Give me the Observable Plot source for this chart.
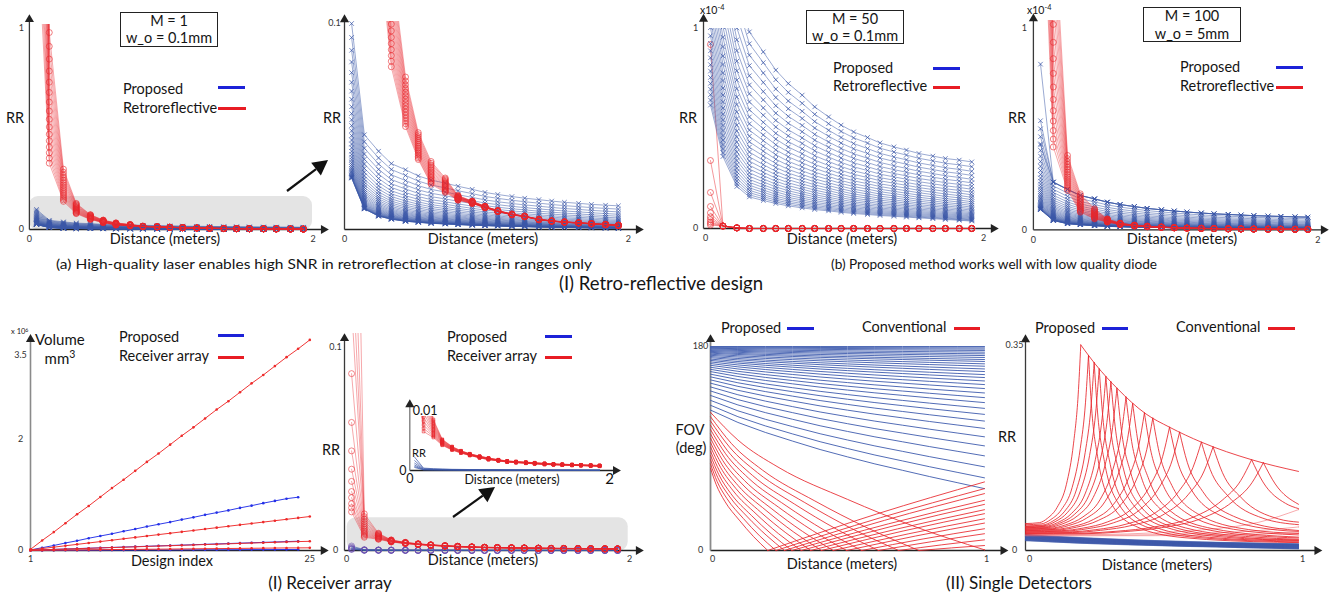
<!DOCTYPE html>
<html>
<head>
<meta charset="utf-8">
<script src="https://cdn.jsdelivr.net/npm/d3@7"></script>
<script src="https://cdn.jsdelivr.net/npm/@observablehq/plot@0.6"></script>
<style>
html,body{margin:0;padding:0;background:#fff;}
#fig{position:relative;width:1335px;height:592px;overflow:hidden;background:#fff;font-family:Lato,"Open Sans",sans-serif;color:#151515;}
.t{position:absolute;white-space:nowrap;line-height:1;}
.box{position:absolute;border:1.3px solid #222;box-sizing:border-box;background:#fff;}
.bar{position:absolute;height:3px;}
sup{font-size:70%;vertical-align:0.5em;line-height:0;}
</style>
</head>
<body>
<div id="fig"></div>
<script>
// ================= DATA =================
// sample distances (meters) of the retro-reflective / receiver-array simulations
const distances = [0.05,0.14,0.24,0.33,0.43,0.52,0.61,0.71,0.8,0.9,0.99,1.08,1.18,1.27,1.37,1.46,1.55,1.65,1.74,1.84,1.93];

// curve levels inside each family (0 = lowest curve, 1 = highest curve)
const proposedLevels = [0,0.0017,0.0058,0.012,0.0202,0.0303,0.0419,0.0552,0.0701,0.0868,0.1046,0.1246,0.1454,0.1679,0.192,0.2176,0.2445,0.2728,0.3021,0.3334,0.3651,0.3984,0.4331,0.4695,0.5069,0.5455,0.5855,0.6268,0.6693,0.7128,0.7577,0.8037,0.8508,0.8995,0.9494,1];
const m50Levels = [0,0.034,0.069,0.103,0.138,0.172,0.207,0.241,0.276,0.31,0.345,0.379,0.414,0.448,0.483,0.517,0.552,0.586,0.621,0.655,0.69,0.724,0.759,0.793,0.828,0.862,0.897,0.931,0.966,1];
const retroLevels = [0,0.067,0.133,0.2,0.267,0.333,0.4,0.467,0.533,0.6,0.667,0.733,0.8,0.867,0.933,1];
const receiverLevels = [1,0.923,0.846,0.769,0.692,0.615,0.538,0.462,0.385,0.308,0.231,0.154,0.077,0];
const smallLevels = [0,0.2,0.4,0.6,0.8,1];

// (a) M = 1, w_o = 0.1mm  — RR (highest / lowest curve of each family)
const m1ProposedHigh = [0.1,0.046,0.038,0.032,0.029,0.026,0.024,0.0225,0.021,0.0195,0.018,0.017,0.016,0.0152,0.0145,0.0138,0.0132,0.0127,0.0122,0.0118,0.0115];
const m1ProposedLow  = [0.025,0.01,0.0065,0.005,0.004,0.0035,0.003,0.0027,0.0024,0.0021,0.0019,0.0017,0.0015,0.0014,0.0012,0.0011,0.001,0.0009,0.0008,0.0007,0.0006];
const m1RetroHigh = [10,0.98,0.3,0.13,0.074,0.047,0.033,0.025,0.0165,0.0138,0.0113,0.0092,0.0075,0.0065,0.005,0.0042,0.0037,0.0033,0.0029,0.0025,0.0021];
const m1RetroLow  = [1.6,0.33,0.14,0.079,0.05,0.034,0.022,0.018,0.0142,0.0126,0.0105,0.0087,0.0071,0.0062,0.0047,0.004,0.0035,0.0031,0.0027,0.0023,0.0019];

// (b) M = 50, w_o = 0.1mm  — RR x1e-4
const m50ProposedHigh = [2.0,1.6,1.2,0.983,0.883,0.792,0.725,0.667,0.608,0.558,0.517,0.483,0.455,0.428,0.408,0.392,0.375,0.362,0.35,0.342,0.333];
const m50ProposedLow  = [0.617,0.36,0.21,0.158,0.14,0.125,0.113,0.103,0.095,0.088,0.081,0.075,0.07,0.065,0.061,0.057,0.053,0.049,0.045,0.041,0.037];
const m50RetroStart = [0.92,0.34,0.18,0.11,0.078,0.058,0.045,0.033,0.025,0.017];
const m50RetroTail  = [0.012,0.003,0,0,0,0,0,0,0,0,0,0,0,0,0,0,0,0,0,0];

// (b) M = 100, w_o = 5mm  — RR x1e-4
const m100ProposedHigh = [0.5,0.236,0.2,0.17,0.153,0.137,0.125,0.115,0.106,0.099,0.093,0.088,0.083,0.079,0.076,0.073,0.07,0.068,0.066,0.064,0.0627];
const m100ProposedLow  = [0.1,0.046,0.03,0.025,0.02,0.017,0.015,0.013,0.012,0.011,0.01,0.009,0.008,0.0075,0.007,0.0065,0.006,0.0055,0.005,0.0045,0.004];
const m100ProposedOutliers = [0.82,0.54,0.42];
const m100RetroHigh = [8,1.6,0.368,0.178,0.104,0.054,0.033,0.023,0.018,0.014,0.011,0.009,0.0075,0.0062,0.0052,0.0045,0.004,0.0035,0.003,0.0027,0.0025];
const m100RetroLow  = [2,0.41,0.195,0.087,0.054,0.038,0.026,0.019,0.015,0.012,0.0095,0.008,0.0065,0.0055,0.0045,0.004,0.0035,0.003,0.0026,0.0023,0.0021];

// (I) Receiver array — volume (x1e6 mm^3) per design index
const designIndex = [1,2,3,4,5,6,7,8,9,10,11,12,13,14,15,16,17,18,19,20,21,22,23,24,25];
const volumeArrayTop    = [0.02,0.18,0.33,0.49,0.65,0.8,0.96,1.12,1.27,1.43,1.59,1.74,1.9,2.06,2.21,2.37,2.53,2.68,2.84,3,3.15,3.31,3.47,3.62,3.78];
const volumeArrayMid    = [0.01,0.035,0.06,0.085,0.11,0.135,0.16,0.185,0.21,0.235,0.26,0.285,0.31,0.335,0.36,0.385,0.41,0.435,0.46,0.485,0.51,0.535,0.56,0.585,0.61];
const volumeArrayLow    = [0.005,0.012,0.019,0.026,0.032,0.039,0.046,0.053,0.059,0.066,0.073,0.08,0.086,0.093,0.1,0.107,0.113,0.12,0.127,0.134,0.14,0.147,0.154,0.16,0.165];
const volumeArrayLowest = [0.002,0.004,0.006,0.008,0.01,0.012,0.014,0.016,0.018,0.02,0.022,0.024,0.026,0.028,0.03,0.032,0.034,0.036,0.038,0.04,0.042,0.044,0.046,0.047,0.048];
const volumeProposedTop    = [0.01,0.05,0.09,0.135,0.175,0.22,0.26,0.3,0.345,0.385,0.43,0.47,0.51,0.555,0.595,0.64,0.68,0.72,0.765,0.805,0.85,0.89,0.93,0.957];
const volumeProposedLow    = [0.005,0.012,0.02,0.027,0.034,0.041,0.048,0.055,0.062,0.069,0.076,0.083,0.09,0.097,0.104,0.111,0.118,0.125,0.132,0.139,0.146,0.153,0.16,0.167];
const volumeProposedLowest = [0.001,0.002,0.003,0.004,0.004,0.005,0.006,0.007,0.007,0.008,0.009,0.01,0.01,0.011,0.012,0.013,0.013,0.014,0.015,0.016,0.016,0.017,0.018,0.019];

// (I) Receiver array — RR
const receiverStart = [0.35,0.2,0.15,0.12,0.087,0.063,0.049,0.04,0.034,0.029,0.026,0.023,0.021,0.019];
const receiverTailHigh = [0.018,0.0085,0.0052,0.004,0.0033,0.0028,0.0024,0.0021,0.0018,0.0016,0.0015,0.0014,0.0013,0.0012,0.0011,0.00105,0.001,0.00095,0.0009,0.00085];
const receiverTailLow  = [0.0065,0.0055,0.0042,0.0034,0.0029,0.0025,0.0021,0.0018,0.0016,0.0014,0.0013,0.0012,0.0011,0.001,0.00095,0.0009,0.00085,0.0008,0.00075,0.0007];
const receiverProposedHigh = [0.0022,0.0004,0.0003,0.00025,0.0002,0.00018,0.00016,0.00015,0.00014,0.00013,0.00012,0.00011,0.0001,0.0001,0.00009,0.00009,0.00008,0.00008,0.00007,0.00007,0.00007];
const receiverProposedLow  = [0.0005,0.0001,0.00008,0.00007,0.00006,0.00005,0.00005,0.00004,0.00004,0.00004,0.00003,0.00003,0.00003,0.00003,0.00002,0.00002,0.00002,0.00002,0.00002,0.00002,0.00002];

// (II) Single detectors
const gridX = [0,0.1,0.2,0.3,0.4,0.5,0.6,0.7,0.8,0.9,1];
const fovProposedTop    = [180,180,180,180,180,180,180,180,180,180,180];
const fovProposedBottom = [123.9,113.0,104.2,96.5,89.1,82.6,76.4,70.8,65.2,59.9,54.6];
const fovProposedEnds = [180,178.8,177.7,176.5,175,173.5,172,170.3,168.5,166.8,164.7,162.6,160.2,157.9,155.2,152.6,149.6,146.4,142.9,139,134.9,130.5,125.4,120.1,114.2,107.7,100.3,92.3,83.5,73.8,64.1,54.6];
const fovConventional = [
 [[0,121.9],[0.1,97.5],[0.25,73.1],[0.5,45.1],[0.75,20.7],[1,0.6]],
 [[0,118.1],[0.076,94.5],[0.19,70.9],[0.381,43.7],[0.571,20.1],[0.761,0],[0.88,2.3],[1,4.4]],
 [[0,114.3],[0.069,91.4],[0.172,68.6],[0.344,42.3],[0.515,19.4],[0.687,0],[0.844,5.0],[1,9.4]],
 [[0,110.5],[0.061,88.4],[0.153,66.3],[0.307,40.9],[0.46,18.8],[0.613,0],[0.807,7.8],[1,14.8]],
 [[0,106.7],[0.055,85.4],[0.138,64.0],[0.276,39.5],[0.414,18.1],[0.552,0],[0.776,10.2],[1,19.2]],
 [[0,102.9],[0.05,82.3],[0.124,61.7],[0.249,38.1],[0.373,17.5],[0.497,0],[0.749,12.8],[1,24.2]],
 [[0,99.1],[0.045,79.3],[0.112,59.5],[0.224,36.7],[0.336,16.8],[0.448,0],[0.724,14.8],[1,28.0]],
 [[0,95.3],[0.041,76.2],[0.101,57.2],[0.203,35.3],[0.304,16.2],[0.405,0],[0.703,17.2],[1,32.5]],
 [[0,91.5],[0.037,73.2],[0.092,54.9],[0.183,33.9],[0.275,15.6],[0.366,0],[0.683,19.1],[1,36.0]],
 [[0,87.7],[0.033,70.2],[0.083,52.6],[0.166,32.4],[0.248,14.9],[0.331,0],[0.666,21.6],[1,40.7]],
 [[0,83.9],[0.03,67.1],[0.074,50.3],[0.149,31.0],[0.223,14.3],[0.297,0],[0.649,23.5],[1,44.3]],
 [[0,80.1],[0.027,64.1],[0.068,48.1],[0.135,29.6],[0.203,13.6],[0.27,0],[0.635,26.6],[1,50.2]],
 [[0,76.3],[0.024,61.0],[0.06,45.8],[0.12,28.2],[0.179,13.0],[0.239,0],[0.62,28.9],[1,54.6]],
 [[0,72.5],[0.021,58.0],[0.052,43.5],[0.105,26.8],[0.157,12.3],[0.209,0],[0.605,32.1],[1,60.5]]
];
const rrProposedHigh = [0.027,0.024,0.022,0.02,0.018,0.0165,0.015,0.014,0.013,0.012,0.0114];
const rrProposedLow  = [0.017,0.0145,0.0125,0.011,0.0095,0.0082,0.007,0.006,0.0048,0.0038,0.0028];
const rrConventional = [
 [[0,0.046],[0.0506,0.0475],[0.081,0.0552],[0.1157,0.0735],[0.15,0.1131],[0.1761,0.1833],[0.1929,0.2656],[0.2025,0.351],[0.2577,0.317],[0.3374,0.276],[0.4417,0.233],[0.5276,0.2105],[0.6442,0.185],[0.8282,0.155],[1,0.135]],
 [[0,0.044],[0.0577,0.0454],[0.0923,0.0527],[0.1318,0.07],[0.1709,0.1076],[0.2006,0.174],[0.2197,0.2521],[0.2307,0.333],[0.2422,0.243],[0.2653,0.1567],[0.3114,0.083],[0.4037,0.0413],[0.5768,0.0221],[0.9228,0.0141],[1,0.0135]],
 [[0,0.042],[0.0629,0.0434],[0.1006,0.0504],[0.1437,0.0671],[0.1863,0.1034],[0.2187,0.1676],[0.2395,0.2429],[0.2515,0.321],[0.2641,0.2348],[0.2892,0.1516],[0.3395,0.0808],[0.4401,0.0407],[0.6288,0.0222],[1,0.0145]],
 [[0,0.041],[0.0675,0.0423],[0.108,0.0491],[0.1542,0.0652],[0.1999,0.1002],[0.2347,0.1621],[0.257,0.2347],[0.2699,0.31],[0.2834,0.227],[0.3104,0.147],[0.3644,0.0787],[0.4723,0.0402],[0.6748,0.0224],[1,0.0159]],
 [[0,0.04],[0.0736,0.0413],[0.1178,0.0477],[0.1683,0.0631],[0.2181,0.0965],[0.2561,0.1557],[0.2805,0.225],[0.2945,0.297],[0.3092,0.2178],[0.3387,0.1414],[0.3976,0.0763],[0.5154,0.0395],[0.7363,0.0225],[1,0.0171]],
 [[0,0.039],[0.0782,0.0402],[0.1252,0.0465],[0.1788,0.0614],[0.2318,0.0938],[0.2721,0.151],[0.298,0.2183],[0.3129,0.288],[0.3285,0.2114],[0.3598,0.1376],[0.4224,0.0747],[0.5476,0.0391],[0.7823,0.0227],[1,0.018]],
 [[0,0.038],[0.0838,0.0392],[0.134,0.0452],[0.1914,0.0595],[0.2481,0.0906],[0.2913,0.1456],[0.319,0.2101],[0.335,0.277],[0.3518,0.2036],[0.3853,0.1329],[0.4523,0.0726],[0.5863,0.0386],[0.8375,0.0229],[1,0.0192]],
 [[0,0.037],[0.092,0.0381],[0.1472,0.0438],[0.2103,0.0573],[0.2727,0.0865],[0.3201,0.1383],[0.3506,0.199],[0.3681,0.262],[0.3865,0.193],[0.4233,0.1264],[0.4969,0.0697],[0.6442,0.0377],[0.9203,0.0229],[1,0.0214]],
 [[0,0.036],[0.0982,0.0371],[0.157,0.0425],[0.2243,0.0554],[0.2908,0.0833],[0.3414,0.1328],[0.3739,0.1908],[0.3926,0.251],[0.4122,0.1852],[0.4515,0.1218],[0.53,0.0677],[0.6871,0.0372],[1,0.0228]],
 [[0,0.035],[0.1089,0.036],[0.1742,0.041],[0.2489,0.053],[0.3227,0.079],[0.3788,0.125],[0.4149,0.179],[0.4356,0.235],[0.4574,0.1738],[0.5009,0.1148],[0.5881,0.0646],[0.7623,0.0362],[1,0.0266]],
 [[0,0.034],[0.1166,0.035],[0.1865,0.0398],[0.2665,0.0513],[0.3454,0.0762],[0.4055,0.1204],[0.4441,0.1722],[0.4663,0.226],[0.4896,0.1675],[0.5362,0.111],[0.6295,0.063],[0.816,0.0358],[1,0.0291]],
 [[0,0.033],[0.1319,0.0339],[0.211,0.0383],[0.3015,0.049],[0.3908,0.072],[0.4588,0.1129],[0.5025,0.1608],[0.5276,0.2105],[0.554,0.1565],[0.6067,0.1044],[0.7123,0.06],[0.9233,0.0349],[1,0.0326]],
 [[0,0.032],[0.1411,0.0329],[0.2258,0.0371],[0.3225,0.0473],[0.4181,0.0694],[0.4908,0.1085],[0.5375,0.1544],[0.5644,0.202],[0.5926,0.1505],[0.6491,0.1008],[0.7619,0.0585],[0.9877,0.0346],[1,0.0342]],
 [[0,0.031],[0.1611,0.0318],[0.2577,0.0356],[0.3681,0.0449],[0.4772,0.0649],[0.5602,0.1003],[0.6135,0.1419],[0.6442,0.185],[0.6764,0.1384],[0.7408,0.0934],[0.8697,0.0551],[1,0.0441]],
 [[0,0.03],[0.1718,0.0307],[0.2748,0.0344],[0.3926,0.0432],[0.509,0.0623],[0.5975,0.0962],[0.6544,0.1358],[0.6871,0.177],[0.7215,0.1328],[0.7902,0.0901],[0.9276,0.0538],[1,0.0484]],
 [[0,0.029],[0.2071,0.0296],[0.3313,0.0328],[0.4733,0.0403],[0.6135,0.0567],[0.7202,0.0857],[0.7888,0.1197],[0.8282,0.155],[0.8696,0.1171],[0.9524,0.0805],[1,0.0715]],
 [[0,0.028],[0.2178,0.0286],[0.3485,0.0317],[0.4978,0.039],[0.6453,0.0548],[0.7576,0.0829],[0.8297,0.1158],[0.8712,0.15],[0.9148,0.1136],[1,0.0789]]
];
const rrConventionalFaint = [
 [[0,0.027],[0.2875,0.0275],[0.46,0.0299],[0.657,0.0356],[0.852,0.0479],[1,0.0698]],
 [[0,0.026],[0.3625,0.0264],[0.58,0.0284],[0.8286,0.0331],[1,0.0402]],
 [[0,0.025],[0.475,0.0253],[0.76,0.027],[1,0.0301]]
];

// highlighted (zoomed) regions
const zoomBoxA = {x1: 0, x2: 1.995, y1: -0.005, y2: 0.164};
const zoomBoxD = {x1: 0.019, x2: 2.005, y1: -0.0003, y2: 0.0161};

// tick labels
const ticksDistance = ["0","2"];
const ticksUnit = ["0","1"];

// ================= TABLES =================
function geoFamily(lo, hi, levels, key) {
  const rows = [];
  levels.forEach((t, j) => distances.forEach((d, i) =>
    rows.push({d, v: Math.exp((1 - t) * Math.log(lo[i]) + t * Math.log(hi[i])), id: key + j})));
  return rows;
}
function startTailFamily(starts, tailLo, tailHi, levels, key) {
  const rows = [];
  starts.forEach((s, j) => {
    rows.push({d: distances[0], v: s, id: key + j});
    for (let i = 1; i < distances.length; i++) {
      const lo = tailLo[i - 1], hi = tailHi[i - 1], t = levels[j];
      const v = lo <= 0 || hi <= 0 ? lo + t * (hi - lo) : Math.exp((1 - t) * Math.log(lo) + t * Math.log(hi));
      rows.push({d: distances[i], v, id: key + j});
    }
  });
  return rows;
}
function linFamily(xs, lo, hi, levels, key) {
  const rows = [];
  levels.forEach((t, j) => xs.forEach((x, i) => rows.push({d: x, v: lo[i] + t * (hi[i] - lo[i]), id: key + j})));
  return rows;
}
function branches(lines, key, splitAtMax) {
  const rows = [];
  lines.forEach((pts, j) => {
    let k = 0;
    pts.forEach((p, i) => { if (splitAtMax ? p[1] > pts[k][1] : p[1] < pts[k][1]) k = i; });
    pts.forEach((p, i) => {
      if (i <= k) rows.push({d: p[0], v: p[1], id: key + j + "a"});
      if (i >= k) rows.push({d: p[0], v: p[1], id: key + j + "b"});
    });
  });
  return rows;
}
function series(xs, ys, key) { return ys.map((v, i) => ({d: xs[i], v, id: key})); }

const m1Prop = geoFamily(m1ProposedLow, m1ProposedHigh, proposedLevels, "p");
const m1Retro = geoFamily(m1RetroLow, m1RetroHigh, retroLevels, "r");
const m50Prop = geoFamily(m50ProposedLow, m50ProposedHigh, m50Levels, "p");
const m50Retro = startTailFamily(m50RetroStart, m50RetroTail, m50RetroTail, m50RetroStart.map(() => 0), "r");
const m100Prop = geoFamily(m100ProposedLow, m100ProposedHigh, proposedLevels, "p").concat(
  startTailFamily(m100ProposedOutliers, m100ProposedHigh.slice(1), m100ProposedHigh.slice(1), [0.9, 0.95, 1], "o"));
const m100Retro = geoFamily(m100RetroLow, m100RetroHigh, retroLevels, "r");
const recRed = startTailFamily(receiverStart, receiverTailLow, receiverTailHigh, receiverLevels, "r");
const recBlue = geoFamily(receiverProposedLow, receiverProposedHigh, smallLevels, "p");
const volRed = [].concat(series(designIndex, volumeArrayTop, "r1"), series(designIndex, volumeArrayMid, "r2"), series(designIndex, volumeArrayLow, "r3"), series(designIndex, volumeArrayLowest, "r4"));
const volBlue = [].concat(series(designIndex, volumeProposedTop, "b1"), series(designIndex, volumeProposedLow, "b2"), series(designIndex, volumeProposedLowest, "b3"));
const fovLevels = fovProposedEnds.map(e => (e - fovProposedBottom[10]) / (fovProposedTop[10] - fovProposedBottom[10]));
const fovBlue = linFamily(gridX, fovProposedBottom, fovProposedTop, fovLevels, "p");
const fovRed = branches(fovConventional, "c", false);
const rrBlue = linFamily(gridX, rrProposedLow, rrProposedHigh, retroLevels, "p");
const rrRed = branches(rrConventional, "c", true);
const rrRedFaint = branches(rrConventionalFaint, "f", true);

// ================= DRAWING =================
const BLUE = "#3a57a7", RED = "#e8262c", BLUE_L = "#1d22d8", RED_L = "#e81c24";
const fig = document.getElementById("fig");
const M = 30;
function addPlot(f, xMap, yMap, marks) {
  const kx = (xMap[3] - xMap[1]) / (xMap[2] - xMap[0]);
  const ky = (yMap[3] - yMap[1]) / (yMap[2] - yMap[0]);
  const xd = [xMap[0] + (f.l - xMap[1]) / kx, xMap[0] + (f.r - xMap[1]) / kx];
  const yd = [yMap[0] + (f.b - yMap[1]) / ky, yMap[0] + (f.t - yMap[1]) / ky];
  const svg = Plot.plot({
    width: f.r - f.l + 2 * M, height: f.b - f.t + 2 * M,
    marginLeft: M, marginRight: M, marginTop: M, marginBottom: M,
    x: {domain: xd, axis: null}, y: {domain: yd, axis: null},
    style: {background: "transparent", overflow: "visible", fontFamily: "Lato, sans-serif", maxWidth: "none"},
    marks
  });
  svg.style.position = "absolute";
  svg.style.left = (f.l - M) + "px";
  svg.style.top = (f.t - M) + "px";
  fig.appendChild(svg);
}
function axes(o) {
  const xc = o.xColor || "#222", yc = o.yColor || "#3a3a3a", yw = o.yWidth || 1.3;
  return [
    Plot.link([0], {x1: [o.x0], y1: [o.y0], x2: [o.xTip], y2: [o.y0], stroke: xc, strokeWidth: 1.3}),
    Plot.link([0], {x1: [o.x0], y1: [o.y0], x2: [o.x0], y2: [o.yTip], stroke: yc, strokeWidth: yw}),
    Plot.dot([0], {x: [o.xTip], y: [o.y0], symbol: "triangle", r: 3.4, fill: "#222", stroke: "none", rotate: 90}),
    Plot.dot([0], {x: [o.x0], y: [o.yTip], symbol: "triangle", r: 3.4, fill: "#222", stroke: "none"})
  ];
}
function ticks(labels, xs, ys, o) {
  return Plot.text(labels, Object.assign({x: xs, y: ys, text: d => d, fontSize: 9, fill: "#333"}, o));
}
function lineMark(rows, stroke, w, op, extra) {
  return Plot.line(rows, Object.assign({x: "d", y: "v", z: "id", stroke, strokeWidth: w, strokeOpacity: op, clip: true}, extra || {}));
}
function dotMark(rows, symbol, r, stroke, w, op) {
  return Plot.dot(rows, {x: "d", y: "v", symbol, r, stroke, strokeWidth: w, strokeOpacity: op, fill: "none", clip: true});
}

// ---- (a) M = 1 full range
addPlot({l: 29, r: 318, t: 24, b: 236}, [0, 28.9, 2, 312.7], [0, 229, 1, 28], [
  Plot.rect([zoomBoxA], {x1: "x1", x2: "x2", y1: "y1", y2: "y2", fill: "#e4e4e4", rx: 9}),
  ...axes({x0: 0, y0: 0, xTip: 2.073, yTip: 1.045}),
  ticks(ticksUnit, [0, 0], [0, 1], {dx: -8}),
  ticks(ticksDistance, [0, 2], [0, 0], {dy: 10}),
  lineMark(m1Prop, BLUE, 0.6, 0.85),
  dotMark(m1Prop, "times", 2.2, BLUE, 0.8, 0.9),
  lineMark(m1Retro, RED, 0.8, 0.5),
  dotMark(m1Retro, "circle", 3, RED, 0.8, 0.75)
]);
// ---- (a) zoomed
addPlot({l: 344, r: 630, t: 21, b: 235}, [0, 344, 2, 627.8], [0, 229, 0.1, 23], [
  ...axes({x0: 0, y0: 0, xTip: 2.072, yTip: 0.1019}),
  ticks(["0.1"], [0], [0.1], {dx: -10}),
  ticks(ticksDistance, [0, 2], [0, 0], {dy: 10}),
  lineMark(m1Prop, BLUE, 0.6, 0.85),
  dotMark(m1Prop, "times", 2.2, BLUE, 0.8, 0.9),
  lineMark(m1Retro, RED, 0.8, 0.5),
  dotMark(m1Retro, "circle", 3, RED, 0.8, 0.75)
]);
// ---- (b) M = 50
addPlot({l: 703, r: 980, t: 28.3, b: 234}, [0, 703, 2, 981], [0, 228.3, 1, 28.3], [
  ...axes({x0: 0, y0: 0, xTip: 2.086, yTip: 1.047}),
  ticks(ticksUnit, [0, 0], [0, 1], {dx: -8}),
  ticks(ticksDistance, [0, 2], [0, 0], {dy: 10, dx: 2}),
  lineMark(m50Retro, RED, 0.8, 0.6),
  dotMark(m50Retro, "circle", 3, RED, 0.8, 0.75),
  lineMark(m50Prop, BLUE, 0.6, 0.85),
  dotMark(m50Prop, "times", 2.2, BLUE, 0.8, 0.9)
]);
// ---- (b) M = 100
addPlot({l: 1033, r: 1315, t: 20, b: 235}, [0, 1032.9, 2, 1317.3], [0, 229.3, 1, 27.3], [
  ...axes({x0: 0, y0: 0, xTip: 2.04, yTip: 1.045}),
  ticks(ticksUnit, [0, 0], [0, 1], {dx: -9}),
  ticks(ticksDistance, [0, 2], [0, 0], {dy: 10}),
  lineMark(m100Prop, BLUE, 0.6, 0.85),
  dotMark(m100Prop, "times", 2.2, BLUE, 0.8, 0.9),
  lineMark(m100Retro, RED, 0.8, 0.5),
  dotMark(m100Retro, "circle", 3, RED, 0.8, 0.75)
]);
// ---- Receiver array: volume
addPlot({l: 26, r: 316, t: 330, b: 553}, [1, 30, 25, 309.3], [0, 550, 3.5, 355], [
  ...axes({x0: 1, y0: 0, xTip: 26.17, yTip: 3.79, yColor: "#8a8a8a", yWidth: 1.6}),
  ticks(["0", "2", "3.5"], [1, 1, 1], [0, 2, 3.5], {dx: -10}),
  ticks(["1", "25"], [1, 25], [0, 0], {dy: 9}),
  lineMark(volBlue, "#2430e8", 1, 0.95, {clip: false}),
  Plot.dot(volBlue, {x: "d", y: "v", r: 1.3, fill: "#2430e8"}),
  lineMark(volRed, "#ee2a2a", 1, 0.95, {clip: false}),
  Plot.dot(volRed, {x: "d", y: "v", r: 1.3, fill: "#ee2a2a"})
]);
// ---- Receiver array: RR
addPlot({l: 344, r: 630, t: 333, b: 556}, [0, 344, 2, 627], [0, 550, 0.1, 346.7], [
  Plot.rect([zoomBoxD], {x1: "x1", x2: "x2", y1: "y1", y2: "y2", fill: "#e4e4e4", rx: 9}),
  ...axes({x0: 0, y0: 0, xTip: 2.078, yTip: 0.1043}),
  ticks(["0.1", "0"], [0, 0], [0.1, 0], {dx: -9}),
  ticks(ticksDistance, [0, 2], [0, 0], {dy: 9, dx: 2}),
  lineMark(recBlue, BLUE, 0.7, 0.85),
  dotMark(recBlue, "circle", 3, "#6a4fb0", 0.8, 0.7),
  lineMark(recRed, RED, 0.8, 0.5),
  dotMark(recRed, "circle", 3, RED, 0.8, 0.7)
]);
// ---- Receiver array: inset
addPlot({l: 409, r: 612, t: 416, b: 473}, [0, 409.3, 2, 606], [0, 470, 0.01, 410], [
  ...axes({x0: 0, y0: 0, xTip: 2.093, yTip: 0.011, yColor: "#777"}),
  ticks(["0.01"], [0], [0.01], {dx: 3, textAnchor: "start", fontSize: 12.5, fill: "#111"}),
  ticks(["0"], [0], [0], {dx: -7, fontSize: 12.5, fill: "#111"}),
  ticks(["0"], [0], [0], {dy: 8, fontSize: 12.5, fill: "#111"}),
  ticks(["2"], [2], [0], {dy: 9, dx: 3, fontSize: 15, fill: "#111"}),
  lineMark(recBlue, BLUE, 0.8, 0.9),
  lineMark(recRed, RED, 0.8, 0.55),
  dotMark(recRed, "square", 1.5, RED, 0.8, 0.8)
]);
// ---- Single detectors: FOV
addPlot({l: 709, r: 990, t: 343, b: 553}, [0, 710, 1, 984], [0, 550, 180, 346], [
  ...axes({x0: 0, y0: 0, xTip: 1.068, yTip: 186.2, yColor: "#8a8a8a", yWidth: 1.8}),
  ticks(["180", "0"], [0, 0], [180, 0], {dx: -10}),
  ticks(["0", "1"], [0, 1], [0, 0], {dy: 9, dx: 2}),
  lineMark(fovBlue, "#3f5cae", 1, 0.9, {clip: false}),
  lineMark(fovRed, "#e8262c", 0.9, 0.95, {clip: false, curve: "monotone-x"})
]);
// ---- Single detectors: RR
addPlot({l: 1023, r: 1305, t: 340, b: 553}, [0, 1025, 1, 1298], [0, 550, 0.35, 345], [
  ...axes({x0: 0, y0: 0, xTip: 1.068, yTip: 0.36}),
  ticks(["0.35", "0"], [0, 0], [0.35, 0], {dx: -11}),
  ticks(["0", "1"], [0, 1], [0, 0], {dy: 9, dx: 4}),
  lineMark(rrBlue, "#3a55a8", 1.2, 0.7, {clip: false}),
  lineMark(rrRedFaint, "#f06066", 0.9, 0.6, {clip: false, curve: "monotone-x"}),
  lineMark(rrRed, "#e8262c", 0.9, 0.95, {clip: false, curve: "monotone-x"})
]);

// ================= TEXT / ANNOTATIONS =================
function label(html, x, y, o) {
  o = o || {};
  const e = document.createElement("div");
  e.className = "t";
  e.innerHTML = html;
  e.style.left = x + "px";
  e.style.top = y + "px";
  e.style.fontSize = (o.size || 14.5) + "px";
  if (o.color) e.style.color = o.color;
  const a = o.anchor === "middle" ? "-50%" : "0";
  e.style.transform = `translate(${a},-50%)`;
  fig.appendChild(e);
  if (o.fit) {
    const w = e.getBoundingClientRect().width;
    e.style.transform = `translate(${a},-50%) scaleX(${o.fit / w})`;
  }
  return e;
}
function bar(x1, x2, y, color) {
  const e = document.createElement("div");
  e.className = "bar";
  e.style.left = x1 + "px"; e.style.width = (x2 - x1) + "px";
  e.style.top = (y - 1.5) + "px"; e.style.background = color;
  fig.appendChild(e);
}
function box(l, t, r, b) {
  const e = document.createElement("div");
  e.className = "box";
  e.style.left = l + "px"; e.style.top = t + "px";
  e.style.width = (r - l) + "px"; e.style.height = (b - t) + "px";
  fig.appendChild(e);
}
const mid = {anchor: "middle"};
// panel (a)
label("RR", 15, 118, mid);
label("Distance (meters)", 165, 239, mid);
box(120, 12, 218, 47);
label("M = 1", 169, 21, mid); label("w_o = 0.1mm", 169, 38, mid);
label("Proposed", 123, 89); bar(218, 245, 87, BLUE_L);
label("Retroreflective", 123, 108); bar(218, 246, 108, RED_L);
label("RR", 332, 118, mid);
label("Distance (meters)", 483, 239, mid);
// panel (b)
label("RR", 688, 118, mid);
label("Distance (meters)", 842, 239, mid);
box(806, 10, 904, 44);
label("M = 50", 855, 19, mid); label("w_o = 0.1mm", 855, 36, mid);
label("Proposed", 833, 68); bar(933, 960, 68, BLUE_L);
label("Retroreflective", 833, 86); bar(933, 960, 87, RED_L);
label("x10<sup>-4</sup>", 700, 10, {size: 10.5});
label("RR", 1017, 118, mid);
label("Distance (meters)", 1182, 239, mid);
box(1143, 7, 1241, 42);
label("M = 100", 1192, 16, mid); label("w_o = 5mm", 1192, 34, mid);
label("Proposed", 1180, 67); bar(1276, 1303, 67, BLUE_L);
label("Retroreflective", 1180, 86); bar(1276, 1303, 87, RED_L);
label("x10<sup>-4</sup>", 1027, 10, {size: 10.5});
// captions top
label("(a) High-quality laser enables high SNR in retroreflection at close-in ranges only", 324, 264, {anchor: "middle", size: 14, fit: 536});
label("(b) Proposed method works well with low quality diode", 994, 264, {anchor: "middle", size: 14, fit: 326});
label("(I) Retro-reflective design", 661, 283, {anchor: "middle", size: 18.5});
// receiver array
label("x 10<sup>6</sup>", 11, 332, {size: 7.5});
label("Volume", 35, 339, {size: 15});
label("mm<sup>3</sup>", 60, 358, {anchor: "middle", size: 15});
label("Proposed", 119, 337); bar(218, 244, 335, BLUE_L);
label("Receiver array", 119, 356); bar(218, 244, 357, RED_L);
label("Design index", 172, 561, mid);
label("RR", 331, 450, mid);
label("Proposed", 447, 337); bar(545, 572, 336, BLUE_L);
label("Receiver array", 447, 356); bar(545, 572, 357, RED_L);
label("Distance (meters)", 483, 560, mid);
label("RR", 419, 452, {anchor: "middle", size: 11});
label("Distance (meters)", 512, 480, {anchor: "middle", size: 12.5});
label("(I) Receiver array", 330, 582, {anchor: "middle", size: 17});
// single detectors
label("FOV", 690, 430, mid);
label("(deg)", 691, 448, mid);
label("Proposed", 721, 328); bar(787, 814, 328, BLUE_L);
label("Conventional", 862, 327); bar(954, 980, 328, RED_L);
label("Distance (meters)", 842, 564, mid);
label("RR", 1007, 437, mid);
label("Proposed", 1035, 328); bar(1102, 1128, 328, BLUE_L);
label("Conventional", 1176, 327); bar(1268, 1295, 328, RED_L);
label("Distance (meters)", 1157, 565, mid);
label("(II) Single Detectors", 1019, 582, {anchor: "middle", size: 17});

// zoom arrows (decoration)
const ns = "http://www.w3.org/2000/svg";
const ov = document.createElementNS(ns, "svg");
ov.setAttribute("width", 1335); ov.setAttribute("height", 592);
ov.style.position = "absolute"; ov.style.left = "0"; ov.style.top = "0";
function bigArrow(x1, y1, x2, y2) {
  const dx = x2 - x1, dy = y2 - y1, L = Math.hypot(dx, dy), ux = dx / L, uy = dy / L;
  const hl = 15, hw = 8, bx = x2 - ux * hl, by = y2 - uy * hl;
  const ln = document.createElementNS(ns, "line");
  ln.setAttribute("x1", x1); ln.setAttribute("y1", y1); ln.setAttribute("x2", bx); ln.setAttribute("y2", by);
  ln.setAttribute("stroke", "#111"); ln.setAttribute("stroke-width", 2.2);
  const hd = document.createElementNS(ns, "polygon");
  hd.setAttribute("points", `${x2},${y2} ${bx - uy * hw},${by + ux * hw} ${bx + uy * hw},${by - ux * hw}`);
  hd.setAttribute("fill", "#111");
  ov.appendChild(ln); ov.appendChild(hd);
}
bigArrow(287, 191, 328, 160);
bigArrow(453, 517, 495, 487);
fig.appendChild(ov);
</script>
</body>
</html>
